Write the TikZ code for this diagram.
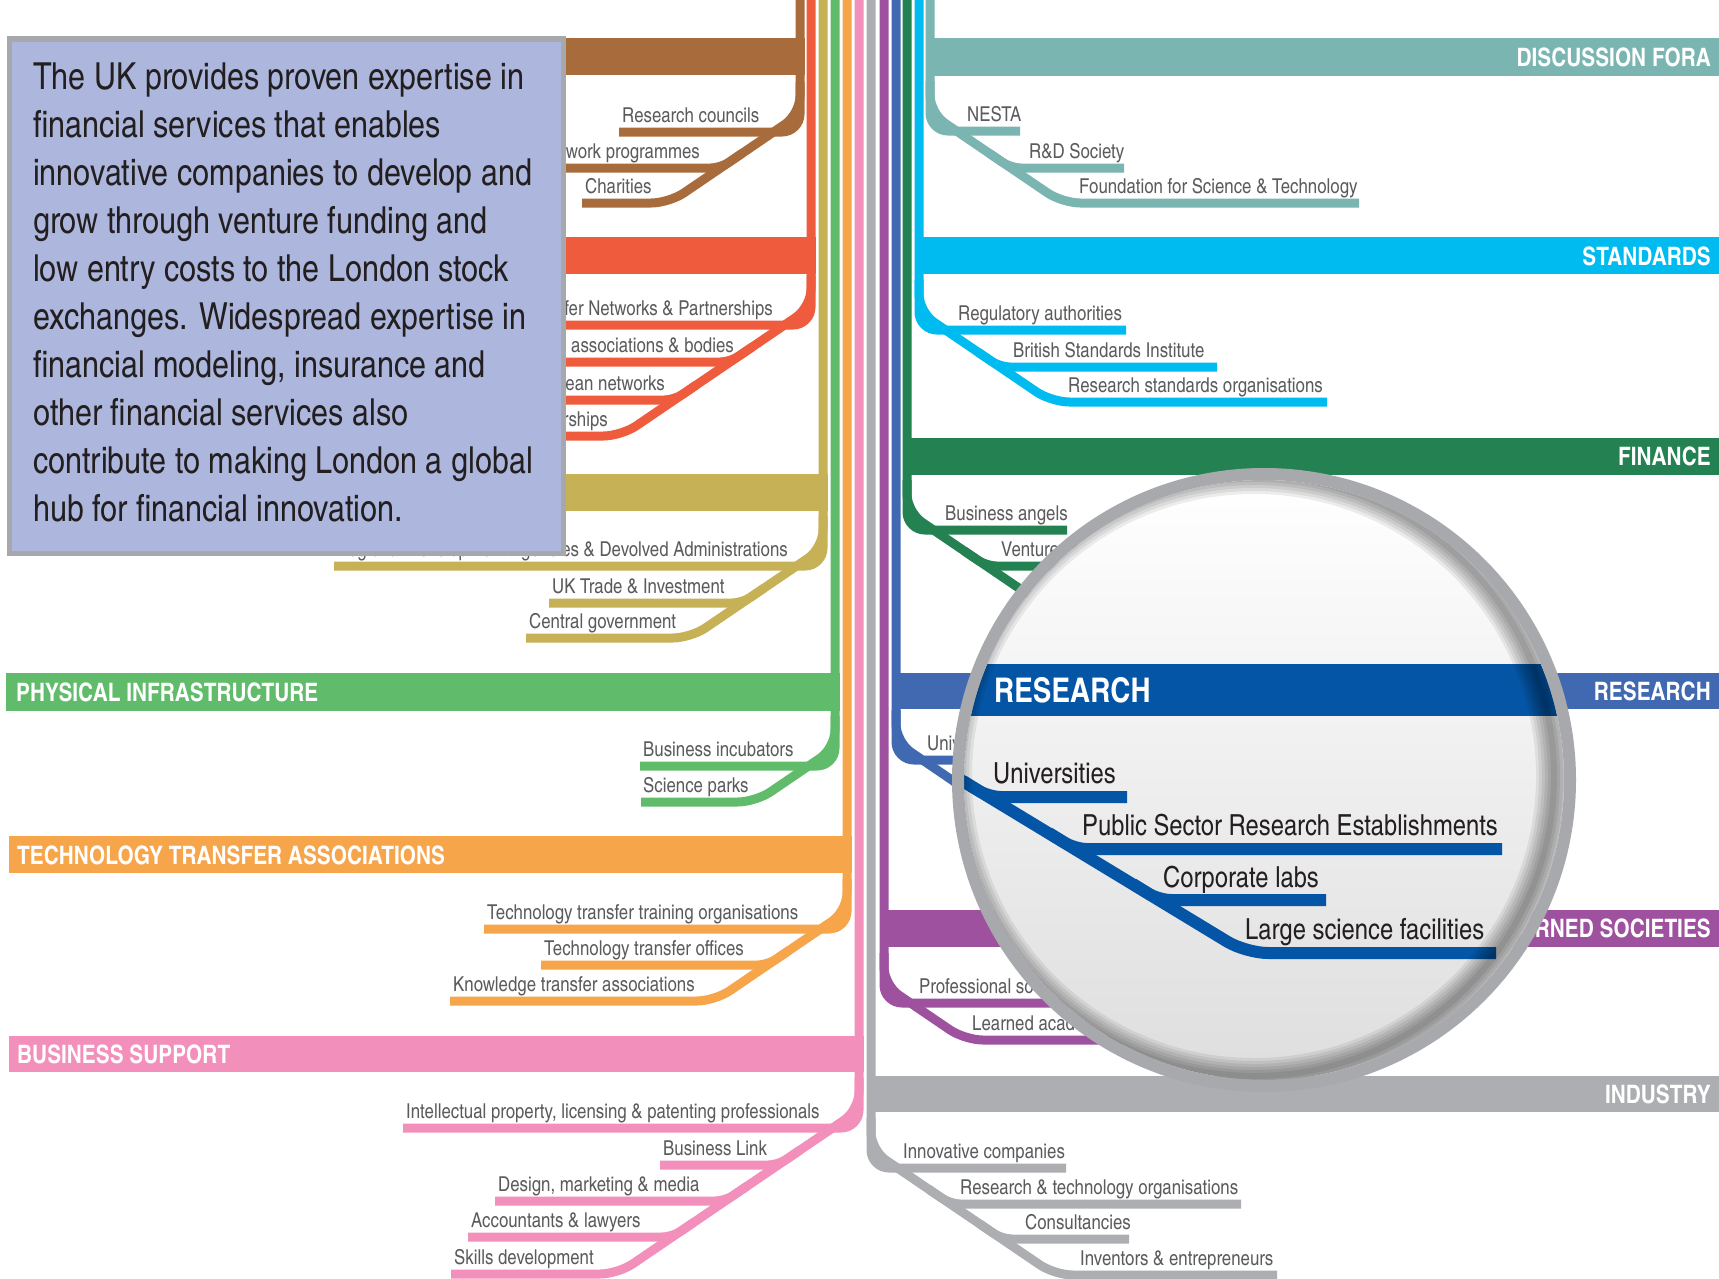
\documentclass[tikz,border=0pt]{standalone}
\usepackage{fontspec}
\setmainfont{TeX Gyre Heros Cn}
\definecolor{cbrown}{HTML}{A86B3C}
\definecolor{cred}{HTML}{EF5B3D}
\definecolor{colive}{HTML}{C6B157}
\definecolor{cgreen}{HTML}{60BC6A}
\definecolor{corange}{HTML}{F7A54B}
\definecolor{cpink}{HTML}{F28FBB}
\definecolor{cgray}{HTML}{ACAEB1}
\definecolor{cpurple}{HTML}{9E519F}
\definecolor{cblue}{HTML}{4169B2}
\definecolor{cdkgreen}{HTML}{238152}
\definecolor{ccyan}{HTML}{00BBF0}
\definecolor{cteal}{HTML}{7AB5B2}
\definecolor{cdeepblue}{HTML}{0455A5}
\definecolor{boxfill}{HTML}{ADB7DD}
\definecolor{boxline}{HTML}{A6A8AB}
\definecolor{lblgray}{HTML}{5A5B5D}
\definecolor{darktext}{HTML}{231F20}
\definecolor{ringgray}{HTML}{A7A9AC}
\newcommand\lblfont{\fontsize{20.5}{22}\selectfont}
\newcommand\bandfont{\fontsize{25.4}{28}\selectfont\bfseries}
\newcommand\boxfont{\fontsize{37.2}{48}\selectfont}
\newcommand\magfont{\fontsize{29}{31}\selectfont}
\newcommand\magbandfont{\fontsize{34}{36}\selectfont\bfseries}
\tikzset{
  sub/.style={line width=9pt, rounded corners=18pt},
  lbl/.style={font=\lblfont, text=lblgray, inner sep=0pt, anchor=base west},
  lblr/.style={lbl, anchor=base east},
  bandlbl/.style={font=\bandfont, text=white, inner sep=0pt, anchor=base west},
  bandlblr/.style={bandlbl, anchor=base east},
  boxtxt/.style={font=\boxfont, text=darktext, inner sep=0pt, anchor=base west},
  maglbl/.style={font=\magfont, text=darktext, inner sep=0pt, anchor=base west},
  magline/.style={line width=12pt, draw=cdeepblue},
}
% left groups
\newcommand\Ltrunk[4]{\draw[sub,#1] ({#2},-5) -- ({#2},{#3}) -- ({#4},{#3});}
\newcommand\Ldiag[5]{\pgfmathsetmacro\mydx{(#4-#3+18)/0.68}%
  \draw[sub,#1] ({#2},{#3-50}) -- ({#2},{#3-18}) -- ({#2-\mydx},{#4}) -- ({#5},{#4});}
\newcommand\Lmid[5]{\pgfmathsetmacro\myxm{#2-(#4-#3+18)/0.68}%
  \draw[sub,#1,rounded corners=10pt] ({#5},{#4}) -- ({\myxm},{#4}) -- ({\myxm+22},{#4-15});}
% right groups
\newcommand\Rtrunk[4]{\draw[sub,#1] ({#2},-5) -- ({#2},{#3}) -- ({#4},{#3});}
\newcommand\Rdiag[5]{\pgfmathsetmacro\mydx{(#4-#3+18)/0.68}%
  \draw[sub,#1] ({#2},{#3-50}) -- ({#2},{#3-18}) -- ({#2+\mydx},{#4}) -- ({#5},{#4});}
\newcommand\Rmid[5]{\pgfmathsetmacro\myxm{#2+(#4-#3+18)/0.68}%
  \draw[sub,#1,rounded corners=10pt] ({#5},{#4}) -- ({\myxm},{#4}) -- ({\myxm-22},{#4-15});}
\begin{document}
\begin{tikzpicture}[x=1pt,y=-1pt]
\useasboundingbox (0,0) rectangle (1719,1278);
\fill[white] (0,0) rectangle (1719,1278);

% ---------- BROWN ----------
\fill[cbrown] (8,38) rectangle (804.5,75);
\Ltrunk{cbrown}{800}{132}{619}
\Ldiag{cbrown}{800}{132}{203}{582}
\Lmid{cbrown}{800}{132}{168}{480}

% ---------- RED ----------
\fill[cred] (8,237) rectangle (815.5,274);
\Rtrunk{cred}{811}{325}{400}
\Ldiag{cred}{811}{325}{436}{400}
\Lmid{cred}{811}{325}{362}{400}
\Lmid{cred}{811}{325}{400}{400}

% ---------- OLIVE ----------
\fill[colive] (8,474) rectangle (827.5,511);
\Ltrunk{colive}{823}{566}{334}
\Ldiag{colive}{823}{566}{638}{526}
\Lmid{colive}{823}{566}{603}{549}

% labels of the upper left groups (the text box hides their left part)
\begin{scope}
  \clip (563,0) rectangle (1719,1278) (0,553) rectangle (563,1278);
  \node[lbl] (rcou) at (622,122) {Research councils};
  \node[lblr] (fwp) at (700,158) {Framework programmes};
  \node[lbl] (char) at (585,193) {Charities};
  \node[lblr] (ktn) at (773,315) {Transfer Networks \& Partnerships};
  \node[lblr] (tab) at (734,352) {Trade associations \& bodies};
  \node[lblr] (eun) at (665,390) {European networks};
  \node[lblr] (ktp) at (608,426) {Faraday Partnerships};
  \node[lblr] (rda) at (788,556) {Regional Development Agencies \& Devolved Administrations};
\end{scope}
\node[lbl] (ukti) at (552,593) {UK Trade \& Investment};
\node[lbl] (cgov) at (529,628) {Central government};

% ---------- GREEN ----------
\fill[cgreen] (6,673) rectangle (839.5,711);
\Ltrunk{cgreen}{835}{766}{640}
\Ldiag{cgreen}{835}{766}{802}{641}
\node[bandlbl] (phys) at (16,701) {PHYSICAL INFRASTRUCTURE};
\node[lbl] (binc) at (643,756) {Business incubators};
\node[lbl] (spark) at (643,792) {Science parks};

% ---------- ORANGE ----------
\fill[corange] (9,836) rectangle (851.5,873);
\Ltrunk{corange}{847}{929}{484}
\Ldiag{corange}{847}{929}{1001}{450}
\Lmid{corange}{847}{929}{965}{541}
\node[bandlbl] (tta) at (17,864) {TECHNOLOGY TRANSFER ASSOCIATIONS};
\node[lbl] (ttto) at (487,919) {Technology transfer training organisations};
\node[lbl] (tto) at (544,955) {Technology transfer offices};
\node[lbl] (kta) at (453,991) {Knowledge transfer associations};

% ---------- PINK ----------
\fill[cpink] (9,1036) rectangle (863.5,1072);
\Ltrunk{cpink}{859}{1128}{403}
\Ldiag{cpink}{859}{1128}{1274}{451}
\Lmid{cpink}{859}{1128}{1165}{660}
\Lmid{cpink}{859}{1128}{1201}{495}
\Lmid{cpink}{859}{1128}{1237}{468}
\node[bandlbl] (bsup) at (17,1063) {BUSINESS SUPPORT};
\node[lbl] (ipl) at (406,1118) {Intellectual property, licensing \& patenting professionals};
\node[lbl] (blink) at (663,1155) {Business Link};
\node[lbl] (dmm) at (498,1191) {Design, marketing \& media};
\node[lbl] (acc) at (471,1227) {Accountants \& lawyers};
\node[lbl] (skill) at (454,1264) {Skills development};

% ---------- TEAL ----------
\fill[cteal] (925.5,38) rectangle (1725,76);
\Rtrunk{cteal}{930}{131}{1020}
\Rdiag{cteal}{930}{131}{203}{1359}
\Rmid{cteal}{930}{131}{168}{1124}
\node[bandlblr] (disc) at (1711,66) {DISCUSSION FORA};
\node[lbl] (nesta) at (967,121) {NESTA};
\node[lbl] (rds) at (1029,158) {R\&D Society};
\node[lbl] (ffst) at (1079,193) {Foundation for Science \& Technology};

% ---------- CYAN ----------
\fill[ccyan] (914.5,237) rectangle (1725,274);
\Rtrunk{ccyan}{919}{330}{1126}
\Rdiag{ccyan}{919}{330}{402}{1327}
\Rmid{ccyan}{919}{330}{367}{1217}
\node[bandlblr] (stand) at (1711,265) {STANDARDS};
\node[lbl] (rega) at (958,320) {Regulatory authorities};
\node[lbl] (bsi) at (1013,357) {British Standards Institute};
\node[lbl] (rso) at (1068,392) {Research standards organisations};

% ---------- DARK GREEN ----------
\fill[cdkgreen] (902.5,438) rectangle (1725,475);
\Rtrunk{cdkgreen}{907}{530}{1067}
\Rdiag{cdkgreen}{907}{530}{602}{1250}
\Rmid{cdkgreen}{907}{530}{566}{1250}
\node[bandlblr] (fin) at (1711,465) {FINANCE};
\node[lbl] (bang) at (945,520) {Business angels};
\node[lbl] (vent) at (1001,556) {Venture capital};

% ---------- BLUE ----------
\fill[cblue] (891.5,673) rectangle (1725,709);
\Rtrunk{cblue}{896}{760}{1250}
\Rdiag{cblue}{896}{760}{868}{1300}
\Rmid{cblue}{896}{760}{796}{1300}
\Rmid{cblue}{896}{760}{832}{1300}
\node[bandlblr] (res) at (1711,700) {RESEARCH};
\node[lbl] (unis) at (927,750) {Universities};

% ---------- PURPLE ----------
\fill[cpurple] (879.5,910) rectangle (1725,947);
\Rtrunk{cpurple}{884}{1003}{1250}
\Rdiag{cpurple}{884}{1003}{1040}{1250}
\node[bandlblr] (lsoc) at (1711,937.5) {LEARNED SOCIETIES};
\node[lbl] (psoc) at (919,993) {Professional societies};
\node[lbl] (lacad) at (972,1030) {Learned academies};

% ---------- GRAY ----------
\fill[cgray] (866.5,1076) rectangle (1725,1112);
\Rtrunk{cgray}{871}{1168}{1066}
\Rdiag{cgray}{871}{1168}{1275}{1277}
\Rmid{cgray}{871}{1168}{1204}{1241}
\Rmid{cgray}{871}{1168}{1239}{1129}
\node[bandlblr] (ind) at (1711,1103) {INDUSTRY};
\node[lbl] (icomp) at (903,1158) {Innovative companies};
\node[lbl] (rto) at (960,1194) {Research \& technology organisations};
\node[lbl] (cons) at (1025,1229) {Consultancies};
\node[lbl] (inv) at (1080,1265) {Inventors \& entrepreneurs};

% ---------- TEXT BOX ----------
\draw[boxline, line width=5.5pt, fill=boxfill] (9.25,38.75) rectangle (563.25,553.25);
\node[boxtxt] (t1) at (33,89) {The UK provides proven expertise in};
\node[boxtxt] (t2) at (33,137) {financial services that enables};
\node[boxtxt] (t3) at (33,185) {innovative companies to develop and};
\node[boxtxt] (t4) at (33,233) {grow through venture funding and};
\node[boxtxt] (t5) at (33,281) {low entry costs to the London stock};
\node[boxtxt] (t6) at (33,329) {exchanges. Widespread expertise in};
\node[boxtxt] (t7) at (33,377) {financial modeling, insurance and};
\node[boxtxt] (t8) at (33,425) {other financial services also};
\node[boxtxt] (t9) at (33,473) {contribute to making London a global};
\node[boxtxt] (t10) at (33,521) {hub for financial innovation.};

% ---------- MAGNIFIER ----------
\coordinate (mc) at (1264,780);
\begin{scope}
  \clip (1264,780) circle[radius=300];
  \shade[top color=white, bottom color=black!13] (964,480) rectangle (1564,1080);
  \fill[cdeepblue] (900,664) rectangle (1620,716);
  \node[font=\magbandfont, text=white, inner sep=0pt, anchor=base west] (mres) at (994,702) {RESEARCH};
  \draw[magline, rounded corners=22pt] (890,737) -- (1246,953) -- (1496,953);
  \draw[magline, rounded corners=12pt] (1127,797) -- (989,797) -- (963,781);
  \draw[magline, rounded corners=12pt] (1502,849) -- (1075,849) -- (1049,833);
  \draw[magline, rounded corners=12pt] (1326,900) -- (1159,900) -- (1133,884);
  \node[maglbl] (muni) at (993,783) {Universities};
  \node[maglbl] (mpsre) at (1082,835) {Public Sector Research Establishments};
  \node[maglbl] (mcorp) at (1163,887) {Corporate labs};
  \node[maglbl] (mlsf) at (1245,939) {Large science facilities};
  \foreach \w in {6,12,18,24,30,36}
    \draw[black, opacity=0.07, line width=\w pt] (1254,776) circle[radius=300];
\end{scope}
\draw[ringgray, line width=12pt] (mc) circle[radius=306];
\end{tikzpicture}
\end{document}
